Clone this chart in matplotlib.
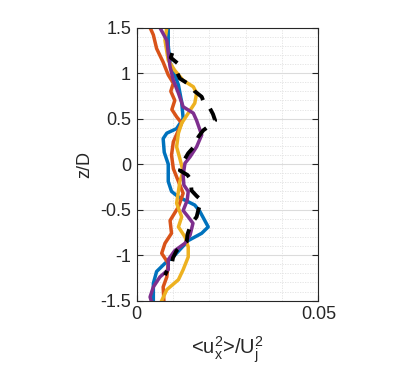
import matplotlib
matplotlib.use("Agg")
import matplotlib.pyplot as plt
from matplotlib.ticker import MultipleLocator

plt.rcParams["font.family"] = ["Liberation Sans", "DejaVu Sans"]
plt.rcParams["mathtext.fontset"] = "custom"
plt.rcParams["mathtext.rm"] = "Liberation Sans"
plt.rcParams["mathtext.it"] = "Liberation Sans"
plt.rcParams["axes.unicode_minus"] = False

# profiles: z/D positions and <u_x^2>/U_j^2 values
blue_z = [1.5, 1.3, 1.12, 1.0, 0.87, 0.68, 0.5, 0.39, 0.34, 0.28, 0.13, 0.0,
          -0.19, -0.30, -0.36, -0.45, -0.52, -0.69, -0.76, -0.84, -1.0, -1.09,
          -1.18, -1.31, -1.5]
blue_u = [0.0087, 0.0087, 0.0092, 0.0103, 0.0115, 0.0124, 0.0128, 0.0110,
          0.0083, 0.0073, 0.0076, 0.0087, 0.0087, 0.0096, 0.0115, 0.0160,
          0.0174, 0.0197, 0.0179, 0.0142, 0.0105, 0.0078, 0.0055, 0.0046,
          0.0046]

orange_z = [1.5, 1.42, 1.27, 1.12, 0.98, 0.89, 0.80, 0.70, 0.60, 0.52, 0.45,
            0.37, 0.245, 0.10, -0.05, -0.14, -0.32, -0.47, -0.62, -0.76,
            -0.87, -0.98, -1.09, -1.24, -1.35, -1.5]
orange_u = [0.0037, 0.0046, 0.0055, 0.0073, 0.0087, 0.0101, 0.0094, 0.0105,
            0.0097, 0.0110, 0.0124, 0.0115, 0.0101, 0.0096, 0.0101, 0.0110,
            0.0128, 0.0115, 0.0092, 0.0096, 0.0078, 0.0069, 0.0087, 0.0083,
            0.0073, 0.0075]

yellow_z = [1.5, 1.36, 1.14, 1.03, 0.92, 0.85, 0.78, 0.67, 0.59, 0.45, 0.34,
            0.19, 0.06, -0.08, -0.19, -0.30, -0.43, -0.58, -0.69, -0.80,
            -0.91, -1.02, -1.16, -1.27, -1.38, -1.5]
yellow_u = [0.0083, 0.0078, 0.0087, 0.0105, 0.0128, 0.0156, 0.0165, 0.0160,
            0.0147, 0.0124, 0.0115, 0.0110, 0.0119, 0.0128, 0.0119, 0.0115,
            0.0110, 0.0124, 0.0115, 0.0133, 0.0142, 0.0142, 0.0128, 0.0115,
            0.0083, 0.0069]

purple_z = [1.5, 1.36, 1.22, 1.07, 0.92, 0.78, 0.63, 0.56, 0.48, 0.32, 0.19,
            0.08, 0.01, -0.12, -0.23, -0.30, -0.40, -0.51, -0.58, -0.65,
            -0.78, -0.87, -0.95, -1.05, -1.16, -1.24, -1.35, -1.46, -1.5]
purple_u = [0.0064, 0.0083, 0.0087, 0.0092, 0.0101, 0.0115, 0.0128, 0.0156,
            0.0165, 0.0179, 0.0165, 0.0147, 0.0133, 0.0128, 0.0130, 0.0142,
            0.0139, 0.0128, 0.0142, 0.0155, 0.0147, 0.0133, 0.0105, 0.0087,
            0.0087, 0.0064, 0.0046, 0.0037, 0.0040]

black_z = [1.22, 1.17, 1.10, 1.0, 0.94, 0.87, 0.80, 0.74, 0.68, 0.61, 0.55,
           0.48, 0.42, 0.37, 0.30, 0.26, 0.20, 0.12, 0.04, -0.07, -0.12,
           -0.18, -0.24, -0.29, -0.35, -0.40, -0.50, -0.58, -0.63, -0.69,
           -0.77, -0.85, -0.90, -0.95, -1.03, -1.11, -1.16, -1.22]
black_u = [0.0098, 0.0094, 0.0115, 0.0112, 0.0119, 0.0147, 0.0160, 0.0179,
           0.0185, 0.0202, 0.0210, 0.0216, 0.0200, 0.0183, 0.0170, 0.0165,
           0.0160, 0.0142, 0.0130, 0.0119, 0.0140, 0.0151, 0.0150, 0.0151,
           0.0165, 0.0179, 0.0170, 0.0165, 0.0155, 0.0147, 0.0140, 0.0138,
           0.0125, 0.0110, 0.0100, 0.0096, 0.0085, 0.0078]

x_ticks = [0, 0.05]
x_ticklabels = ["0", "0.05"]
y_ticks = [-1.5, -1, -0.5, 0, 0.5, 1, 1.5]
y_ticklabels = ["-1.5", "-1", "-0.5", "0", "0.5", "1", "1.5"]

fig = plt.figure(figsize=(4.14, 3.73), dpi=100)
ax = fig.add_axes([0.330, 0.194, 0.439, 0.732])

lw = 2.5
ax.plot(blue_u, blue_z, color="#0072BD", lw=lw)
ax.plot(orange_u, orange_z, color="#D95319", lw=lw)
ax.plot(yellow_u, yellow_z, color="#EDB120", lw=lw)
ax.plot(purple_u, purple_z, color="#7E2F8E", lw=lw)
ax.plot(black_u, black_z, color="black", lw=2.8, linestyle=(0, (3.4, 2.9)))

ax.set_xlim(0, 0.05)
ax.set_ylim(-1.5, 1.5)
ax.set_xticks(x_ticks)
ax.set_xticklabels(x_ticklabels)
ax.set_yticks(y_ticks)
ax.set_yticklabels(y_ticklabels)
ax.xaxis.set_minor_locator(MultipleLocator(0.01))
ax.yaxis.set_minor_locator(MultipleLocator(0.1))
ax.grid(which="major", color="#dcdcdc", lw=0.8)
ax.grid(which="minor", color="#e2e2e2", lw=0.6, linestyle=(0, (1.5, 1.5)))
ax.set_axisbelow(True)
ax.tick_params(which="major", direction="in", length=4, width=0.8,
               top=True, right=True, labelsize=13, pad=4, colors="#262626")
ax.tick_params(which="minor", length=0)
for s in ax.spines.values():
  s.set_color("#262626")
  s.set_linewidth(0.8)

ax.set_ylabel("z/D", fontsize=13, color="#262626", labelpad=5)
ax.set_xlabel(r"<$\mathregular{u_x^2}$>/$\mathregular{U_j^2}$", fontsize=14.5,
              color="#262626", labelpad=8)

fig.savefig("out.png", dpi=100)
